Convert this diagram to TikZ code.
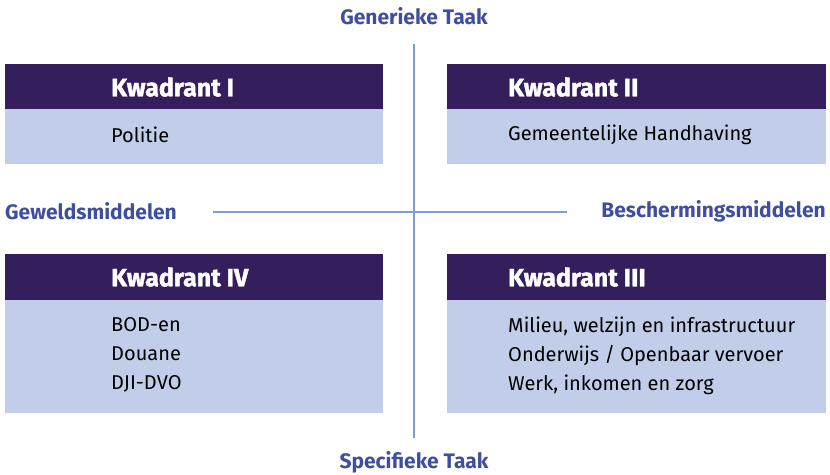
\documentclass[tikz,border=0pt]{standalone}
\usepackage{fontspec}
\setmainfont{Fira Sans}
\newfontfamily\hdrfont[FakeBold=1.6]{Fira Sans Bold}
\definecolor{hdr}{HTML}{341F5C}
\definecolor{bdy}{HTML}{C2CEE9}
\definecolor{lbl}{HTML}{3F4E9E}
\definecolor{axis}{HTML}{7D9DD6}
\begin{document}
\begin{tikzpicture}[x=1pt,y=-1pt,
  hdrbox/.style={fill=hdr,draw=none,inner sep=0pt},
  bdybox/.style={fill=bdy,draw=none,inner sep=0pt},
  hdrtxt/.style={text=white,font=\fontsize{25}{28}\hdrfont,anchor=west,inner sep=0pt},
  bdytxt/.style={text=black,font=\fontsize{20}{29}\selectfont,anchor=north west,inner sep=0pt,align=left},
  axlbl/.style={text=lbl,font=\fontsize{21}{24}\selectfont\bfseries,inner sep=0pt},
  axline/.style={draw=axis,line width=1.6pt}]
\useasboundingbox (0,0) rectangle (830,474);
% quadrant boxes
\path[bdybox] (5,109) rectangle (383,164);
\path[hdrbox] (5,64) rectangle (383,109);
\path[bdybox] (447,109) rectangle (826,164);
\path[hdrbox] (447,64) rectangle (826,109);
\path[bdybox] (5,300) rectangle (383,413);
\path[hdrbox] (5,254) rectangle (383,300);
\path[bdybox] (447,300) rectangle (826,413);
\path[hdrbox] (447,254) rectangle (826,300);
\node[hdrtxt] (h1) at (111,87) {Kwadrant I};
\node[hdrtxt] (h2) at (508,87) {Kwadrant II};
\node[hdrtxt] (h4) at (111,277) {Kwadrant IV};
\node[hdrtxt] (h3) at (508,277) {Kwadrant III};
\node[bdytxt,anchor=west] (b1) at (111,135) {Politie};
\node[bdytxt,anchor=west] (b2) at (508,135) {Gemeentelijke Handhaving};
\node[bdytxt] (b4) at (111,317) {BOD-en\\Douane\\DJI-DVO};
\node[bdytxt] (b3) at (508,317) {Milieu, welzijn en infrastructuur\\Onderwijs / Openbaar vervoer\\Werk, inkomen en zorg};
% axes
\node[axlbl] (top) at (414,16) {Generieke Taak};
\node[axlbl] (bot) at (414,462) {Specifieke Taak};
\node[axlbl,anchor=west] (left) at (5,211) {Geweldsmiddelen};
\node[axlbl,anchor=east] (right) at (826,211) {Beschermingsmiddelen};
\coordinate (vt) at (414,44);
\coordinate (vb) at (414,438);
\coordinate (hl) at (213,212);
\coordinate (hr) at (567,212);
\draw[axline] (vt) -- (vb);
\draw[axline] (hl) -- (hr);
\end{tikzpicture}
\end{document}
